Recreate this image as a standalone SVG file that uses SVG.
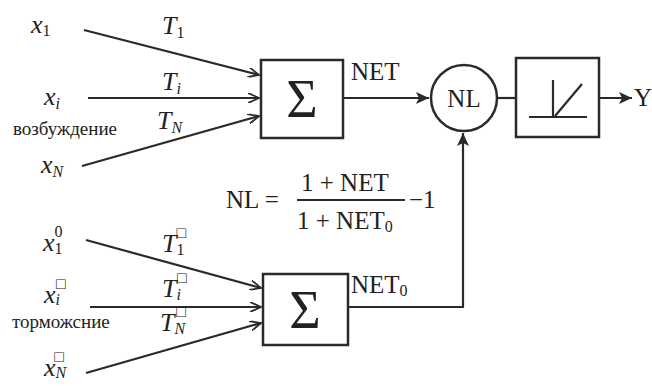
<svg xmlns="http://www.w3.org/2000/svg" width="652" height="386" viewBox="0 0 652 386" font-family="Liberation Serif, DejaVu Serif, serif">
<defs>
<style>
text{fill:#222}
.v{font-style:italic;font-size:26px}
.sub{font-style:normal;font-size:16px}
.si{font-style:italic;font-size:16px}
.lbl{font-size:19px}
.big{font-size:25px}
.sig{font-size:54px}
.ln{stroke:#2a2a2a;stroke-width:2.2;fill:none}
.box{stroke:#2a2a2a;stroke-width:2.5;fill:#fff}
</style>
<marker id="ah" markerWidth="12" markerHeight="10" refX="11" refY="5" orient="auto" markerUnits="userSpaceOnUse">
<path d="M0,0 L11,5 L0,10" fill="none" stroke="#2a2a2a" stroke-width="1.8"/>
</marker>
<marker id="af" markerWidth="14" markerHeight="12" refX="13" refY="6" orient="auto" markerUnits="userSpaceOnUse">
<path d="M0,0 L13,6 L0,12 L3,6 Z" fill="#2a2a2a"/>
</marker>
</defs>
<rect width="652" height="386" fill="#fff"/>
<g id="connectors">
<line class="ln" x1="84" y1="30" x2="259" y2="75" marker-end="url(#ah)"/>
<line class="ln" x1="88" y1="98" x2="259" y2="98" marker-end="url(#ah)"/>
<line class="ln" x1="82" y1="166" x2="259" y2="116" marker-end="url(#ah)"/>
<line class="ln" x1="86" y1="240" x2="261" y2="288" marker-end="url(#ah)"/>
<line class="ln" x1="90" y1="307" x2="261" y2="307" marker-end="url(#ah)"/>
<line class="ln" x1="86" y1="373" x2="261" y2="323" marker-end="url(#ah)"/>
<line class="ln" x1="343" y1="98" x2="429" y2="98" marker-end="url(#af)"/>
<line class="ln" x1="498" y1="98" x2="516" y2="98"/>
<line class="ln" x1="599" y1="98" x2="632" y2="98" marker-end="url(#af)"/>
<polyline class="ln" points="348,307 463,307 463,133" marker-end="url(#af)"/>
</g>
<g id="inputs-exc">
<text class="v" x="31" y="33">x<tspan class="sub" dy="3">1</tspan></text>
<text class="v" x="44" y="105">x<tspan class="si" dy="4">i</tspan></text>
<text class="v" x="41" y="173">x<tspan class="si" dy="4">N</tspan></text>
<text class="lbl" x="13" y="135">возбуждение</text>
<text class="v" x="162" y="34">T<tspan class="sub" dy="4">1</tspan></text>
<text class="v" x="162" y="90">T<tspan class="si" dy="4">i</tspan></text>
<text class="v" x="157" y="129">T<tspan class="si" dy="4">N</tspan></text>
</g>
<g id="inputs-inh">
<text class="v" x="43" y="251">x<tspan class="sub" dy="3">1</tspan><tspan class="sub" dx="-8" dy="-17">0</tspan></text>
<text class="v" x="44" y="303">x<tspan class="si" dy="2">i</tspan><tspan class="sub" dx="-4" dy="-16">□</tspan></text>
<text class="v" x="44" y="376">x<tspan class="si" dy="2">N</tspan><tspan class="sub" dx="-12" dy="-16">□</tspan></text>
<text class="lbl" x="12" y="328">торможсние</text>
<text class="v" x="162" y="252">T<tspan class="sub" dy="3">1</tspan><tspan class="sub" dx="-8" dy="-17">□</tspan></text>
<text class="v" x="162" y="297">T<tspan class="si" dy="3">i</tspan><tspan class="sub" dx="-4" dy="-17">□</tspan></text>
<text class="v" x="160" y="331">T<tspan class="si" dy="3">N</tspan><tspan class="sub" dx="-9" dy="-17">□</tspan></text>
</g>
<g id="sum1">
<rect class="box" x="261" y="60" width="82" height="78"/>
<text class="sig" x="302" y="117" text-anchor="middle">Σ</text>
<text class="big" x="351" y="80">NET</text>
</g>
<g id="sum2">
<rect class="box" x="263" y="274" width="85" height="71"/>
<text class="sig" x="305" y="328" text-anchor="middle">Σ</text>
<text class="big" x="351" y="293">NET<tspan class="sub" dy="3">0</tspan></text>
</g>
<g id="nl">
<circle class="box" cx="464" cy="98" r="33"/>
<text class="big" x="464" y="107" text-anchor="middle">NL</text>
</g>
<g id="act">
<rect class="box" x="516" y="58" width="83" height="79"/>
<line class="ln" x1="553" y1="80" x2="553" y2="117"/>
<line class="ln" x1="529" y1="117" x2="587" y2="117"/>
<line class="ln" x1="555" y1="116" x2="582" y2="84"/>
</g>
<g id="output">
<text class="big" x="634" y="106">Y</text>
</g>
<g id="formula">
<text class="big" x="226" y="208">NL =</text>
<text class="big" x="301" y="191">1 + NET</text>
<line class="ln" x1="297" y1="200" x2="405" y2="200" stroke-width="1.5"/>
<text class="big" x="297" y="229">1 + NET<tspan class="sub" dy="3">0</tspan></text>
<text class="big" x="409" y="208">−1</text>
</g>
</svg>
